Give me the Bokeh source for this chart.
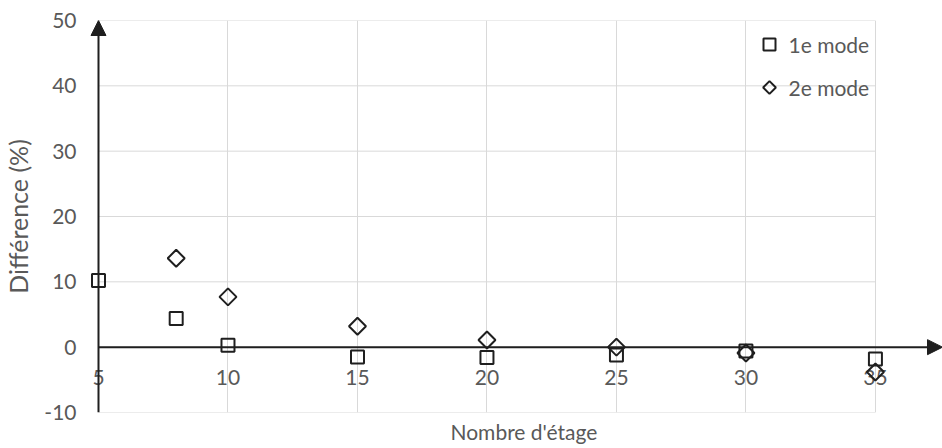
from bokeh.plotting import figure
from bokeh.models import Range1d, FixedTicker, Arrow, NormalHead, Title
from bokeh.core.properties import value
from bokeh.embed import file_html
from bokeh.resources import INLINE
import numpy as np

# ---- data ----
etages = [5, 8, 10, 15, 20, 25, 30, 35]
mode1 = [10.2, 4.4, 0.3, -1.5, -1.6, -1.2, -0.6, -1.8]
etages2 = [8, 10, 15, 20, 25, 30, 35]
mode2 = [13.6, 7.7, 3.2, 1.1, 0.0, -0.9, -3.8]
x_ticks = [5, 10, 15, 20, 25, 30, 35]
y_ticks = [-10, 0, 10, 20, 30, 40, 50]
x_labels = [str(t) for t in x_ticks]
series_names = ["1e mode", "2e mode"]

FONT = "Lato"
TXT = "#595959"
AX = "#1f1f1f"
GRID = "#d9d9d9"
FS = "21px"

W, H = 942, 448
LEFT, TOP, BOTTOM = 80, 20, 36
FRAME_W, FRAME_H = W - LEFT, H - TOP - BOTTOM

x_min, x_max = min(x_ticks), max(x_ticks)
y_min, y_max = min(y_ticks), max(y_ticks)
x_start, x_end = 4.305, 37.59

p = figure(width=W, height=H, x_range=Range1d(x_start, x_end), y_range=Range1d(y_min, y_max),
           output_backend="svg", toolbar_location=None,
           min_border_left=LEFT, min_border_right=0, min_border_top=TOP,
           min_border_bottom=BOTTOM)
p.outline_line_color = None
p.background_fill_color = "white"
p.border_fill_color = "white"

# pixel ranges for the legend (frame pixels from bottom-left)
p.extra_x_ranges = {"px": Range1d(0, FRAME_W)}
p.extra_y_ranges = {"px": Range1d(0, FRAME_H)}

# x axis: tick labels sit along y=0, title placed below the frame
p.xaxis.visible = False
p.add_layout(Title(text="Nombre d'étage", align="left", offset=370, standoff=8,
                   text_font=FONT, text_font_size=FS, text_font_style="normal",
                   text_color=TXT), "below")

# y axis
p.yaxis.ticker = FixedTicker(ticks=y_ticks)
p.yaxis.major_label_overrides = {t: str(t) for t in y_ticks}
p.yaxis.axis_line_color = None
p.yaxis.major_tick_line_color = None
p.yaxis.minor_tick_line_color = None
p.yaxis.major_tick_out = 0
p.yaxis.major_tick_in = 0
p.yaxis.major_label_standoff = 4
p.yaxis.major_label_text_font = FONT
p.yaxis.major_label_text_font_size = FS
p.yaxis.major_label_text_color = TXT
p.yaxis.axis_label = "Différence (%)"
p.yaxis.axis_label_text_font = FONT
p.yaxis.axis_label_text_font_style = "normal"
p.yaxis.axis_label_text_font_size = "25px"
p.yaxis.axis_label_text_color = TXT
p.yaxis.axis_label_standoff = 8

# grids
p.xgrid.ticker = FixedTicker(ticks=x_ticks[1:])
p.xgrid.grid_line_color = GRID
p.xgrid.grid_line_width = 1
p.ygrid.visible = False
p.segment(x0=[x_min] * len(y_ticks), y0=y_ticks, x1=[x_max] * len(y_ticks), y1=y_ticks,
          line_color=GRID, line_width=1)

# axis lines with arrows
p.add_layout(Arrow(end=NormalHead(size=15, fill_color=AX, line_color=AX, line_width=1),
                   x_start=x_min, y_start=y_min, x_end=x_min, y_end=y_max,
                   line_color=AX, line_width=2))
p.add_layout(Arrow(end=NormalHead(size=15, fill_color=AX, line_color=AX, line_width=1),
                   x_start=x_min, y_start=0, x_end=x_end, y_end=0,
                   line_color=AX, line_width=2))

# x tick labels along y=0
p.text(x=x_ticks, y=[0] * len(x_ticks), text=x_labels, text_align="center",
       text_baseline="top", y_offset=23, text_font=value(FONT), text_font_size=FS,
       text_color=TXT)

# series
p.scatter(etages, mode1, marker="square", size=13, fill_color=None,
          line_color=AX, line_width=2)
p.scatter(etages2, mode2, marker="square", angle=np.pi / 4, size=12, fill_color=None,
          line_color=AX, line_width=2)

# legend (frame pixel coordinates)
LEG_X, LEG_Y0, LEG_DY = 689, 368, 43
leg_y = [LEG_Y0, LEG_Y0 - LEG_DY]
p.scatter([LEG_X], [leg_y[0]], marker="square", size=12, fill_color=None, line_color=AX,
          line_width=2, x_range_name="px", y_range_name="px")
p.scatter([LEG_X], [leg_y[1]], marker="square", angle=np.pi / 4, size=9, fill_color=None,
          line_color=AX, line_width=2, x_range_name="px", y_range_name="px")
p.text(x=[LEG_X + 19] * 2, y=leg_y, text=series_names, text_align="left",
       text_baseline="middle", text_font=value(FONT), text_font_size=FS, text_color=TXT,
       x_range_name="px", y_range_name="px")

open("out.html", "w").write(file_html(p, INLINE))
